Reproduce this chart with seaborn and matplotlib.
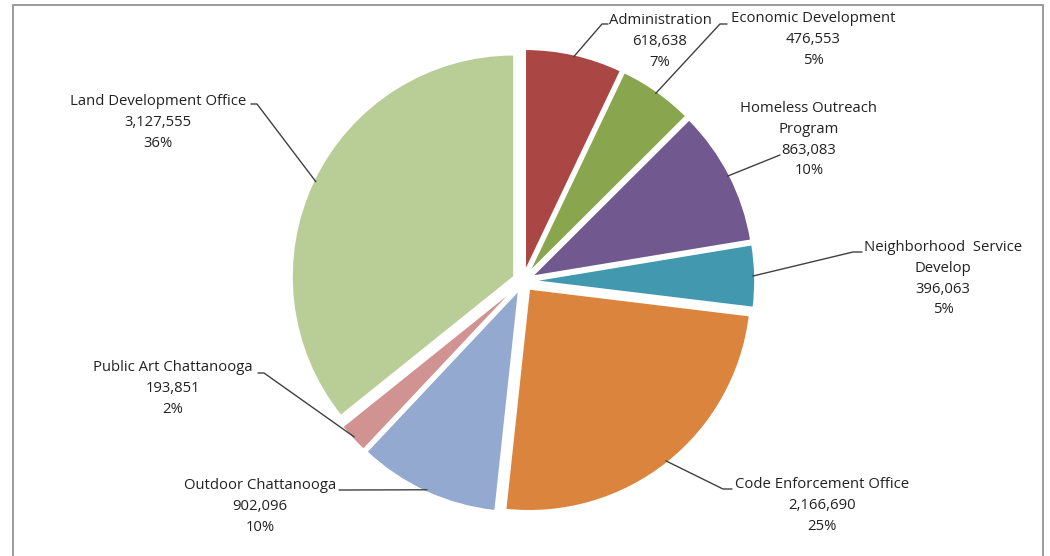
import numpy as np
import matplotlib
matplotlib.use("Agg")
import matplotlib.pyplot as plt
import seaborn as sns
from matplotlib.patches import Rectangle

departments = ["Administration", "Economic Development", "Homeless Outreach\nProgram",
               "Neighborhood  Service\nDevelop", "Code Enforcement Office",
               "Outdoor Chattanooga", "Public Art Chattanooga", "Land Development Office"]
amounts = [618638, 476553, 863083, 396063, 2166690, 902096, 193851, 3127555]
colors = ["#AA4643", "#89A54E", "#71588F", "#4198AF", "#DB843D",
          "#93A9CF", "#D19392", "#B9CD96"]

W, H = 1050, 556

# label layout in pixels (centre x, first line y) and leader line elbows
label_xy = [(660, 20), (813, 18), (809, 108), (943, 247),
            (822, 484), (260, 485), (173, 367), (158, 101)]
leaders = [[(608, 24), (602, 24)], [(727, 24), (720, 24)], [(780, 155)],
           [(862, 252), (853, 252)], [(732, 489), (723, 489)],
           [(339, 490), (345, 490)], [(258, 373), (264, 373)],
           [(251, 104), (257, 104)]]

sns.set_style("white")
plt.rcParams["font.family"] = ["Open Sans", "DejaVu Sans"]

fig = plt.figure(figsize=(W / 100, H / 100), dpi=100)
ax = fig.add_axes([0, 0, 1, 1])

total = sum(amounts)
wedges, _ = ax.pie(amounts, colors=colors, startangle=90, counterclock=False,
                   center=(523, H - 281), radius=222, explode=[10] * len(amounts),
                   wedgeprops=dict(edgecolor="white", linewidth=1.2), frame=True)
ax.set_xlim(0, W)
ax.set_ylim(0, H)
ax.axis("off")

for w, name, val, (lx, ly), pts in zip(wedges, departments, amounts, label_xy, leaders):
    txt = f"{name}\n{val:,}\n{val / total:.0%}"
    ax.text(lx, H - ly + 7, txt, ha="center", va="top", fontsize=10.7,
            color="#222222", linespacing=1.53)
    th = np.deg2rad((w.theta1 + w.theta2) / 2)
    cx, cy = w.center
    end = (cx + 0.99 * w.r * np.cos(th), cy + 0.99 * w.r * np.sin(th))
    xs = [p[0] for p in pts] + [end[0]]
    ys = [H - p[1] for p in pts] + [end[1]]
    ax.plot(xs, ys, color="#404040", lw=1)

# chart border
fig.patches.append(Rectangle((13 / W, -0.05), 1030 / W, (H - 5) / H + 0.05,
                             transform=fig.transFigure, fill=False,
                             edgecolor="#8a8a8a", lw=1.2))

fig.savefig("out.png", dpi=100)
